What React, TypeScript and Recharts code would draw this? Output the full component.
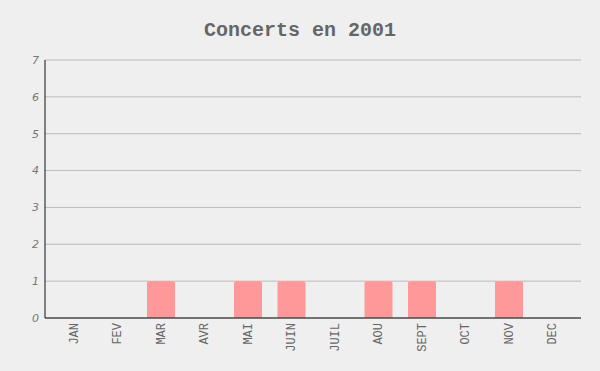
import React from "react";
import { BarChart, Bar, XAxis, YAxis, CartesianGrid } from "recharts";

// Concerts per month, 2001
const months = ["JAN", "FEV", "MAR", "AVR", "MAI", "JUIN", "JUIL", "AOU", "SEPT", "OCT", "NOV", "DEC"];
const concerts = [0, 0, 1, 0, 1, 1, 0, 1, 1, 0, 1, 0];
const yTicks = [0, 1, 2, 3, 4, 5, 6, 7];

const data = months.map((m, i) => ({ month: m, concerts: concerts[i] }));

const MONO = "'Liberation Mono', 'DejaVu Sans Mono', monospace";

function MonthTick(props: any) {
  const { x, y, payload } = props;
  return (
    <text
      x={x}
      y={y}
      transform={`rotate(-90, ${x}, ${y})`}
      textAnchor="end"
      dy="0.35em"
      fontFamily={MONO}
      fontSize={12}
      fill="#666"
    >
      {payload.value}
    </text>
  );
}

export default function App() {
  return (
    <div style={{ position: "fixed", left: 0, top: 0, width: 600, height: 371, background: "#efefef" }}>
      <div
        style={{
          position: "absolute",
          top: 19,
          left: 0,
          width: 600,
          textAlign: "center",
          fontFamily: MONO,
          fontWeight: "bold",
          fontSize: 20,
          color: "#666",
        }}
      >
        Concerts en 2001
      </div>
      <BarChart width={600} height={371} data={data} margin={{ top: 60, right: 19, left: 0, bottom: 0 }}>
        <CartesianGrid vertical={false} stroke="#bbb" />
        <XAxis
          dataKey="month"
          interval={0}
          height={53}
          padding={{ left: 7, right: 7 }}
          tickLine={false}
          tickSize={0}
          tickMargin={5}
          stroke="#111"
          tick={<MonthTick />}
        />
        <YAxis
          width={45}
          domain={[0, 7]}
          ticks={yTicks}
          interval={0}
          tickLine={false}
          tickSize={0}
          tickMargin={6}
          stroke="#111"
          tick={{ fill: "#777", fontSize: 11, fontStyle: "italic", fontFamily: "'DejaVu Sans', sans-serif" }}
        />
        <Bar dataKey="concerts" fill="#ff9999" barSize={28} radius={[2, 2, 0, 0]} isAnimationActive={false} />
      </BarChart>
    </div>
  );
}
